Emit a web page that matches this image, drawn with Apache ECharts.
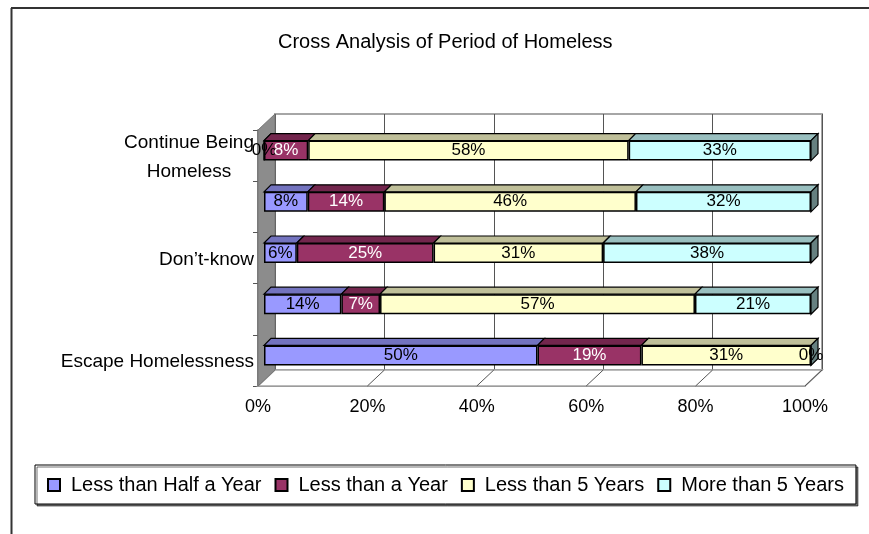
<!DOCTYPE html>
<html><head><meta charset="utf-8">
<script src="https://cdn.jsdelivr.net/npm/echarts@6/dist/echarts.min.js"></script>
<style>html,body{margin:0;padding:0;background:#fff}#c{width:869px;height:534px}</style>
</head><body><div id="c"></div>
<script>
// ---- data ----
const categories = ['Continue Being\nHomeless', '', 'Don’t-know', '', 'Escape Homelessness'];
const seriesNames = ['Less than Half a Year', 'Less than a Year', 'Less than 5 Years', 'More than 5 Years'];
const lessThanHalfYear = [0, 8, 6, 14, 50];
const lessThanYear = [8, 14, 25, 7, 19];
const lessThan5Years = [58, 46, 31, 57, 31];
const moreThan5Years = [33, 32, 38, 21, 0];
const xTicks = [0, 20, 40, 60, 80, 100];
const title = 'Cross Analysis of Period of Homeless';

// ---- styles ----
const FONT = 'Liberation Sans';
const frontColors = ['#9999FF', '#993366', '#FFFFCC', '#CCFFFF'];
const topColors = ['#7373bf', '#73264d', '#bfbf99', '#99bfbf'];
const sideColor = '#668080';
const labelColors = ['#000', '#fff', '#000', '#000'];
const BAR_H = 20, DEPTH = 7;
// planes: front (axes), bars, back wall
const W = 547, H = 256;
const front = {left: 258, top: 130};
const bars = {left: 264, top: 125};
const back = {left: 275, top: 114};

const values = [lessThanHalfYear, lessThanYear, lessThan5Years, moreThan5Years];
const nRows = categories.length;
// 100% stacked: normalise each row to its total
const totals = categories.map((_, r) => values.reduce((s, v) => s + v[r], 0));
const norm = values.map(v => v.map((x, r) => x / totals[r] * 100));

const series = values.map((v, k) => ({
  name: seriesNames[k], type: 'bar', stack: 'all', xAxisIndex: 1, yAxisIndex: 1,
  barWidth: BAR_H, z: 3,
  data: norm[k].map((x, r) => ({value: x, raw: v[r]})),
  itemStyle: {color: frontColors[k], borderColor: '#000', borderWidth: 1.5},
  label: {show: true, position: 'inside', color: labelColors[k], fontFamily: FONT, fontSize: 17,
    formatter: p => p.data.raw + '%'}
}));

// 3D top / end faces
const faceData = [];
for (let r = 0; r < nRows; r++) {
  let acc = 0;
  for (let k = 0; k < values.length; k++) {
    faceData.push([acc, acc + norm[k][r], r, k]);
    acc += norm[k][r];
  }
}
series.push({
  type: 'custom', xAxisIndex: 1, yAxisIndex: 1, z: 2, silent: true,
  encode: {x: [0, 1], y: 2},
  data: faceData,
  renderItem: (params, api) => {
    const a = api.coord([api.value(0), api.value(2)]);
    const b = api.coord([api.value(1), api.value(2)]);
    const k = api.value(3);
    const yT = a[1] - BAR_H / 2;
    const ch = [{type: 'polygon', shape: {points: [[a[0], yT], [b[0], yT], [b[0] + DEPTH, yT - DEPTH], [a[0] + DEPTH, yT - DEPTH]]},
      style: {fill: topColors[k], stroke: '#000', lineWidth: 1.2}}];
    if (k === values.length - 1) {
      ch.push({type: 'polygon', shape: {points: [[b[0], yT], [b[0] + DEPTH, yT - DEPTH], [b[0] + DEPTH, yT - DEPTH + BAR_H], [b[0], yT + BAR_H]]},
        style: {fill: sideColor, stroke: '#000', lineWidth: 1.2}});
    }
    return {type: 'group', children: ch};
  }
});

const dx = back.left - front.left;
const decor = [
  // outer chart frame
  {type: 'line', z: 1, shape: {x1: 11.5, y1: 8, x2: 11.5, y2: 534}, style: {stroke: '#333', lineWidth: 2}},
  {type: 'line', z: 1, shape: {x1: 11, y1: 8, x2: 869, y2: 8}, style: {stroke: '#333', lineWidth: 2}},
  // floor
  {type: 'polygon', z: 1, shape: {points: [[front.left, front.top + H], [back.left, back.top + H], [back.left + W, back.top + H], [front.left + W, front.top + H]]},
    style: {fill: '#fff', stroke: '#a6a6a6', lineWidth: 1.5}},
  // left wall
  {type: 'polygon', z: 1, shape: {points: [[front.left, front.top], [back.left, back.top], [back.left, back.top + H], [front.left, front.top + H]]},
    style: {fill: '#8c8c8c', stroke: '#777', lineWidth: 1}}
];
xTicks.slice(1).forEach(t => {
  const fx = front.left + W * t / 100;
  decor.push({type: 'line', z: 1, shape: {x1: fx + dx, y1: back.top + H, x2: fx, y2: front.top + H}, style: {stroke: '#555', lineWidth: 1}});
});

const hidden = {show: false};
const option = {
  animation: false,
  backgroundColor: '#fff',
  textStyle: {fontFamily: FONT},
  title: {text: title, left: 273, top: 27, textStyle: {fontFamily: FONT, fontSize: 20, fontWeight: 'normal', color: '#000'}},
  legend: {
    data: seriesNames, left: 35, top: 465, icon: 'rect', itemWidth: 12, itemHeight: 12, itemGap: 13,
    padding: [10, 12, 9, 12], borderColor: '#000', borderWidth: 1, backgroundColor: '#fff',
    shadowColor: 'rgba(0,0,0,0.55)', shadowOffsetX: 2, shadowOffsetY: 2, shadowBlur: 0,
    textStyle: {fontFamily: FONT, fontSize: 20, color: '#000', padding: [0, 0, 0, 6]}
  },
  grid: [
    {left: back.left, top: back.top, width: W, height: H, show: true, borderColor: '#a6a6a6', borderWidth: 2, backgroundColor: '#fff'},
    {left: bars.left, top: bars.top, width: W, height: H},
    {left: front.left, top: front.top, width: W, height: H}
  ],
  xAxis: [
    {gridIndex: 0, type: 'value', min: 0, max: 100, interval: 20, axisLabel: hidden, axisLine: hidden, axisTick: hidden,
      splitLine: {show: true, lineStyle: {color: '#555', width: 1}}},
    {gridIndex: 1, type: 'value', min: 0, max: 100, interval: 20, axisLabel: hidden, axisLine: hidden, axisTick: hidden, splitLine: hidden},
    {gridIndex: 2, type: 'value', min: 0, max: 100, interval: 20, splitLine: hidden, axisTick: hidden,
      axisLine: {show: true, lineStyle: {color: '#555', width: 1.5}},
      axisLabel: {fontFamily: FONT, fontSize: 18, color: '#000', margin: 12, formatter: '{value}%'}}
  ],
  yAxis: [
    {gridIndex: 0, type: 'category', inverse: true, data: categories, axisLabel: hidden, axisLine: hidden, axisTick: hidden},
    {gridIndex: 1, type: 'category', inverse: true, data: categories, axisLabel: hidden, axisLine: hidden, axisTick: hidden},
    {gridIndex: 2, type: 'category', inverse: true, data: categories,
      axisLine: {show: true, lineStyle: {color: '#555', width: 1.5}},
      axisTick: {show: true, length: 5, lineStyle: {color: '#555'}},
      axisLabel: {fontFamily: FONT, fontSize: 19, color: '#000', margin: 4,
        formatter: v => v.split('\n').map(s => '{c|' + s + '}').join('\n'),
        rich: {c: {align: 'center', fontFamily: FONT, fontSize: 19, color: '#000', lineHeight: 29, padding: [3, 0, 0, 0]}}}}
  ],
  graphic: decor,
  series: series
};
const chart = echarts.init(document.getElementById('c'));
chart.setOption(option);
</script>
</body></html>
